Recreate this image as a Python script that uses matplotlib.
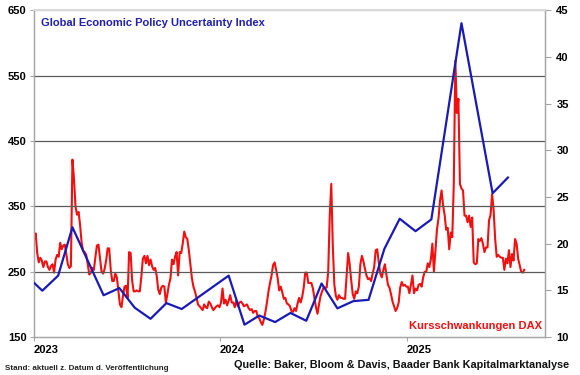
import numpy as np
import pandas as pd
import matplotlib
matplotlib.use("Agg")
import matplotlib.pyplot as plt
import matplotlib.dates as mdates

plt.rcParams['font.family'] = ['Liberation Sans', 'DejaVu Sans']
plt.rcParams['font.weight'] = 'bold'

# Global Economic Policy Uncertainty Index (monthly, left axis)
epu_months = ["2022-12", "2023-01", "2023-02", "2023-03", "2023-05", "2023-06", "2023-07",
              "2023-08", "2023-09", "2023-10", "2024-01", "2024-02", "2024-03", "2024-04",
              "2024-05", "2024-06", "2024-07", "2024-08", "2024-09", "2024-10", "2024-11",
              "2024-12", "2025-01", "2025-02", "2025-04", "2025-06", "2025-07"]
epu_values = [244, 221, 244, 318, 214, 225, 195, 178, 202, 193, 244, 169, 183, 173,
              187, 175, 232, 194, 205, 207, 285, 331, 312, 330, 630, 370, 394]

# DAX volatility (right axis), read every 3 days from 2023-01-02
dax_start = "2023-01-02"
dax_values = [
    20.5, 21.1, 19.0, 18.0, 18.5, 18.2, 17.5, 18.1, 18.1, 17.5,
    17.2, 17.6, 17.8, 16.9, 18.3, 18.8, 18.6, 20.1, 19.4, 19.8,
    19.9, 18.9, 17.8, 17.4, 17.6, 29.0, 27.0, 24.0, 23.1, 23.4,
    22.0, 20.1, 19.2, 19.1, 18.8, 17.8, 16.7, 16.9, 17.4, 17.2,
    18.6, 19.8, 19.9, 18.5, 17.0, 16.8, 17.3, 18.2, 19.5, 19.5,
    17.2, 16.0, 16.0, 16.8, 16.4, 15.0, 13.5, 13.2, 14.4, 15.4,
    15.5, 14.2, 19.1, 19.0, 16.0, 14.9, 14.9, 15.0, 14.9, 14.9,
    16.5, 18.4, 18.7, 17.9, 18.7, 17.7, 18.3, 17.6, 17.2, 17.4,
    16.6, 15.1, 14.6, 15.3, 15.5, 15.4, 13.7, 14.6, 15.6, 16.3,
    18.3, 17.8, 18.6, 19.1, 16.6, 19.1, 19.0, 20.0, 21.3, 20.7,
    20.5, 19.3, 17.8, 16.3, 15.4, 14.9, 14.2, 13.5, 13.3, 13.1,
    12.9, 13.5, 13.2, 13.1, 13.8, 13.6, 13.2, 12.9, 13.1, 13.3,
    13.4, 13.2, 13.7, 15.2, 13.6, 14.0, 13.4, 13.9, 14.5, 13.7,
    13.7, 13.2, 13.9, 13.3, 13.7, 13.8, 13.6, 13.3, 13.4, 13.5,
    13.1, 12.9, 13.0, 12.6, 12.8, 12.8, 12.2, 12.0, 11.6, 11.3,
    11.9, 12.7, 13.7, 14.9, 15.8, 16.6, 17.7, 18.0, 17.2, 16.3,
    15.0, 15.4, 14.8, 14.1, 14.2, 13.6, 13.5, 13.3, 12.8, 12.7,
    13.1, 12.8, 13.6, 14.2, 13.7, 14.3, 15.3, 16.9, 16.9, 15.8,
    15.8, 15.8, 15.2, 14.2, 13.2, 12.5, 13.5, 14.4, 14.9, 15.3,
    15.3, 15.3, 17.0, 23.0, 26.4, 19.7, 15.6, 14.4, 14.0, 14.5,
    14.2, 14.2, 14.1, 14.1, 16.5, 19.0, 17.8, 16.1, 14.6, 14.1,
    14.9, 14.7, 15.4, 17.8, 18.7, 18.1, 17.3, 16.6, 16.2, 16.3,
    16.0, 16.8, 17.5, 19.3, 19.4, 18.0, 16.8, 16.4, 17.2, 17.8,
    16.7, 15.6, 15.3, 14.6, 13.8, 13.3, 12.8, 13.1, 13.7, 15.3,
    15.9, 15.5, 15.6, 15.4, 15.4, 14.7, 15.6, 16.6, 14.7, 15.2,
    15.0, 15.6, 15.7, 15.4, 16.4, 17.0, 17.0, 17.9, 17.5, 18.3,
    20.0, 17.0, 19.2, 21.5, 22.7, 24.6, 25.7, 24.1, 23.1, 21.5,
    21.7, 19.4, 21.2, 20.7, 26.5, 39.6, 34.0, 35.5, 26.4, 25.9,
    25.7, 23.0, 23.0, 22.3, 23.0, 21.8, 22.8, 18.0, 17.8, 17.9,
    20.5, 20.3, 20.6, 20.0, 19.1, 19.6, 19.6, 22.5, 23.1, 25.3,
    23.6, 20.5, 18.6, 18.8, 18.6, 18.5, 18.5, 17.2, 18.4, 17.9,
    19.3, 17.5, 18.9, 18.2, 20.5, 20.0, 18.4, 17.7, 17.0, 16.9,
    17.2,
]

left_ticks = [150, 250, 350, 450, 550, 650]
right_ticks = [10, 15, 20, 25, 30, 35, 40, 45]
year_ticks = ["2023-01-01", "2024-01-01", "2025-01-01"]

epu_dates = pd.to_datetime(epu_months) + pd.Timedelta(days=17)
dax_dates = pd.date_range(dax_start, periods=len(dax_values), freq="3D")

blue = "#1a1ab4"
red = "#f01010"
grey = "#a6a6a6"

fig = plt.figure(figsize=(5.8, 3.75), dpi=100)
ax = fig.add_axes([0.058, 0.101, 0.882, 0.872])
ax2 = ax.twinx()

ax.set_ylim(150, 650)
ax2.set_ylim(10, 45)
ax.set_xlim(pd.Timestamp("2023-01-01"), pd.Timestamp("2025-09-29"))

for v in left_ticks[1:-1]:
    ax.axhline(v, color="#5a5a5a", lw=0.9, zorder=1)

ax2.plot(dax_dates, dax_values, color=red, lw=1.5, zorder=3)
ax.plot(epu_dates, epu_values, color=blue, lw=1.6, zorder=4)
ax.set_zorder(ax2.get_zorder() + 1)
ax.patch.set_visible(False)

ax.set_yticks(left_ticks)
ax2.set_yticks(right_ticks)
ax.set_xticks(pd.to_datetime(year_ticks))
ax.xaxis.set_major_formatter(mdates.DateFormatter("%Y"))
for lab in ax.get_xticklabels():
    lab.set_horizontalalignment("left")

ax.tick_params(axis="y", labelsize=8, length=3, color=grey, pad=2)
ax2.tick_params(axis="y", labelsize=8, length=4, color=grey, pad=4)
ax.tick_params(axis="x", labelsize=8, length=3, color=grey, pad=3)

for a in (ax, ax2):
    for s in a.spines.values():
        s.set_color(grey)
        s.set_linewidth(0.9)
ax.spines["top"].set_color("#d9d9d9")
ax.spines["top"].set_linewidth(1.5)

ax.text(0.014, 0.975, "Global Economic Policy Uncertainty Index", transform=ax.transAxes,
        color="#2020b0", fontsize=8, fontweight="bold", va="top", ha="left")
ax.text(0.993, 0.035, "Kursschwankungen DAX", transform=ax.transAxes,
        color=red, fontsize=8, fontweight="bold", va="center", ha="right")
fig.text(0.008, 0.018, "Stand: aktuell z. Datum d. Veröffentlichung", fontsize=5.8,
         fontweight="bold", color="#222222", ha="left", va="center")
fig.text(0.982, 0.027, "Quelle: Baker, Bloom & Davis, Baader Bank Kapitalmarktanalyse",
         fontsize=7.8, fontweight="bold", color="#111111", ha="right", va="center")

fig.savefig("out.png", dpi=100)
